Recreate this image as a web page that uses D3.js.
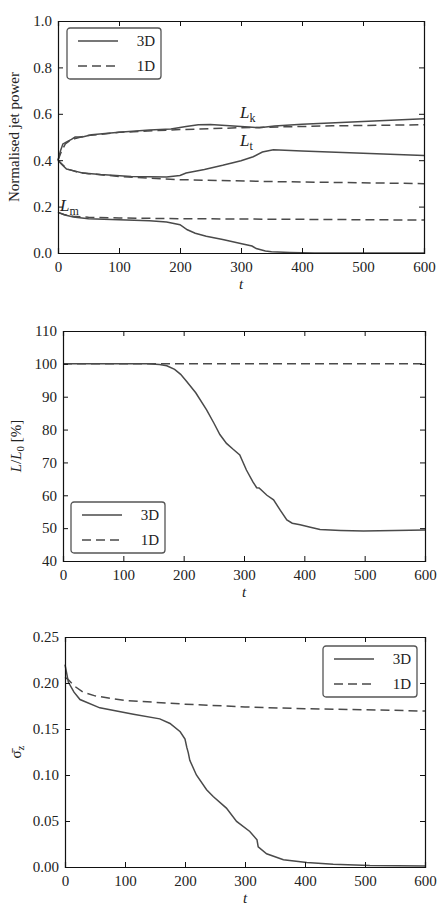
<!DOCTYPE html>
<html>
<head>
<meta charset="utf-8">
<script src="https://cdn.jsdelivr.net/npm/d3@7"></script>
<style>
  body { margin: 0; background: #fff; }
  svg text { font-family: "Liberation Serif", "Times New Roman", Times, serif !important; fill: #222; }
</style>
</head>
<body>
<div id="chart"></div>
<script>
// 时间轴刻度
const tTicks = [0, 100, 200, 300, 400, 500, 600];

// 面板1：归一化喷流功率  [t, value]
const lk3D = [[0,0.40],[4,0.44],[8,0.47],[15,0.48],[22,0.49],[28,0.50],[40,0.50],[55,0.51],[100,0.52],[150,0.53],[185,0.535],[210,0.545],[230,0.553],[250,0.554],[275,0.55],[300,0.545],[330,0.54],[355,0.547],[400,0.555],[500,0.567],[600,0.579]];
const lk1D = [[0,0.40],[6,0.44],[12,0.47],[20,0.485],[30,0.495],[45,0.505],[100,0.52],[200,0.532],[300,0.54],[450,0.548],[600,0.553]];
const lt3D = [[0,0.40],[5,0.385],[14,0.362],[25,0.355],[40,0.345],[70,0.338],[120,0.33],[178,0.328],[200,0.334],[210,0.345],[240,0.36],[270,0.378],[300,0.398],[320,0.415],[335,0.435],[353,0.445],[400,0.44],[500,0.43],[600,0.42]];
const lt1D = [[0,0.40],[6,0.385],[15,0.362],[30,0.35],[50,0.342],[100,0.33],[200,0.316],[350,0.308],[600,0.299]];
const lm3D = [[0,0.175],[10,0.165],[25,0.155],[50,0.148],[100,0.143],[150,0.139],[178,0.134],[200,0.122],[212,0.10],[225,0.085],[243,0.072],[270,0.058],[303,0.039],[318,0.03],[325,0.019],[340,0.009],[350,0.005],[380,0.002],[420,0.0],[600,0.0]];
const lm1D = [[0,0.175],[10,0.166],[25,0.158],[50,0.154],[100,0.151],[200,0.148],[400,0.145],[600,0.142]];
const powerTicks = [0.0, 0.2, 0.4, 0.6, 0.8, 1.0];

// 面板2：L/L0 [%]
const len3D = [[0,100],[100,100],[140,100],[160,99.8],[172,99.4],[185,98.3],[195,96.8],[205,94.6],[220,91.2],[238,86],[250,82],[260,78.5],[271,75.8],[282,74],[293,72.3],[304,67.7],[315,64],[321,62.3],[325,62.2],[338,60],[349,58.6],[360,55.5],[371,52.5],[380,51.5],[393,51],[410,50.3],[426,49.6],[460,49.3],[498,49.1],[550,49.3],[600,49.4]];
const len1D = [[0,100],[600,100]];
const lenTicks = [40, 50, 60, 70, 80, 90, 100, 110];

// 面板3：sigma_z
const sig3D = [[0,0.22],[3,0.21],[5.5,0.201],[15,0.19],[25,0.182],[58,0.173],[114,0.166],[158,0.161],[175,0.156],[192,0.147],[200,0.139],[203,0.13],[205.5,0.124],[208,0.116],[219,0.10],[236,0.084],[247,0.0766],[269,0.064],[286,0.0495],[308,0.0386],[320,0.0296],[322,0.022],[336,0.0144],[364,0.0079],[403,0.005],[447,0.003],[508,0.0015],[600,0.001]];
const sig1D = [[0,0.206],[5,0.204],[15,0.197],[30,0.19],[50,0.186],[100,0.181],[200,0.177],[300,0.174],[400,0.172],[500,0.171],[600,0.1695]];
const sigTicks = [0.00, 0.05, 0.10, 0.15, 0.20, 0.25];

const LINE = "#4a4a4a";
const W = 441, H = 912;

const svg = d3.select("#chart").append("svg")
  .attr("width", W).attr("height", H);

function drawPanel(p) {
  const x = d3.scaleLinear().domain([0, 600]).range([p.left, p.right]);
  const y = d3.scaleLinear().domain(p.yDomain).range([p.bottom, p.top]);
  const g = svg.append("g");
  const line = d3.line().x(d => x(d[0])).y(d => y(d[1]));

  p.series.forEach(s => {
    g.append("path")
      .attr("d", line(s.data))
      .attr("fill", "none")
      .attr("stroke", LINE)
      .attr("stroke-width", 1.5)
      .attr("stroke-dasharray", s.dashed ? "9,5" : null);
  });

  // 刻度向内，四边都有
  const tickFmt = d3.format(p.yFormat);
  g.append("g").attr("transform", `translate(0,${p.bottom})`)
    .call(d3.axisBottom(x).tickValues(tTicks).tickSize(-5).tickPadding(8).tickFormat(d3.format("d")));
  g.append("g").attr("transform", `translate(0,${p.top})`)
    .call(d3.axisTop(x).tickValues(tTicks).tickSize(-5).tickFormat(""));
  g.append("g").attr("transform", `translate(${p.left},0)`)
    .call(d3.axisLeft(y).tickValues(p.yTicks).tickSize(-5).tickPadding(6).tickFormat(tickFmt));
  g.append("g").attr("transform", `translate(${p.right},0)`)
    .call(d3.axisRight(y).tickValues(p.yTicks).tickSize(-5).tickFormat(""));
  g.selectAll(".domain").attr("stroke", "#111").attr("stroke-width", 1.2);
  g.selectAll(".tick line").attr("stroke", "#111");
  g.selectAll(".tick text").style("font-size", "15px").attr("fill", "#222");

  // x 轴标签
  g.append("text")
    .attr("x", (p.left + p.right) / 2).attr("y", p.bottom + 36)
    .attr("text-anchor", "middle").style("font-size", "15px").style("font-style", "italic")
    .text("t");

  // y 轴标签
  const yl = g.append("text")
    .attr("transform", `translate(${p.yLabelX},${(p.top + p.bottom) / 2}) rotate(-90)`)
    .attr("text-anchor", "middle").style("font-size", "15px");
  p.yLabel(yl);

  // 图例
  const lg = g.append("g").attr("transform", `translate(${p.legend[0]},${p.legend[1]})`);
  lg.append("rect").attr("width", 94).attr("height", 51).attr("rx", 3)
    .attr("fill", "#fff").attr("stroke", "#555").attr("stroke-width", 1.3);
  [["3D", false], ["1D", true]].forEach((it, i) => {
    const yy = 13 + i * 25;
    lg.append("line").attr("x1", 11).attr("x2", 51).attr("y1", yy).attr("y2", yy)
      .attr("stroke", LINE).attr("stroke-width", 1.5)
      .attr("stroke-dasharray", it[1] ? "9,5" : null);
    lg.append("text").attr("x", 88).attr("y", yy + 5).attr("text-anchor", "end")
      .style("font-size", "15px").text(it[0]);
  });
  return { g, x, y };
}

function subLabel(sel, xPos, yPos, main, sub) {
  const t = sel.append("text").attr("x", xPos).attr("y", yPos).style("font-size", "17px");
  t.append("tspan").style("font-style", "italic").text(main);
  t.append("tspan").attr("dy", 4).style("font-size", "12px").text(sub);
}

const p1 = drawPanel({
  left: 58, right: 424, top: 21, bottom: 253,
  yDomain: [0, 1], yTicks: powerTicks, yFormat: ".1f",
  series: [
    { data: lk3D }, { data: lk1D, dashed: true },
    { data: lt3D }, { data: lt1D, dashed: true },
    { data: lm3D }, { data: lm1D, dashed: true }
  ],
  yLabelX: 19,
  yLabel: t => t.text("Normalised jet power"),
  legend: [67, 28]
});
subLabel(p1.g, 240, 118, "L", "k");
subLabel(p1.g, 240, 146, "L", "t");
subLabel(p1.g, 60, 211, "L", "m");

drawPanel({
  left: 63, right: 425, top: 331, bottom: 561,
  yDomain: [40, 110], yTicks: lenTicks, yFormat: "d",
  series: [{ data: len3D }, { data: len1D, dashed: true }],
  yLabelX: 21,
  yLabel: t => {
    t.append("tspan").style("font-style", "italic").text("L");
    t.append("tspan").text("/");
    t.append("tspan").style("font-style", "italic").text("L");
    t.append("tspan").attr("dy", 3).style("font-size", "11px").text("0");
    t.append("tspan").attr("dy", -3).text(" [%]");
  },
  legend: [71, 502]
});

drawPanel({
  left: 65, right: 425, top: 637, bottom: 867,
  yDomain: [0, 0.25], yTicks: sigTicks, yFormat: ".2f",
  series: [{ data: sig3D }, { data: sig1D, dashed: true }],
  yLabelX: 21,
  yLabel: t => {
    t.append("tspan").text("σ\u0304");
    t.append("tspan").attr("dy", 3).style("font-size", "11px").text("z");
  },
  legend: [323, 646]
});
</script>
</body>
</html>
